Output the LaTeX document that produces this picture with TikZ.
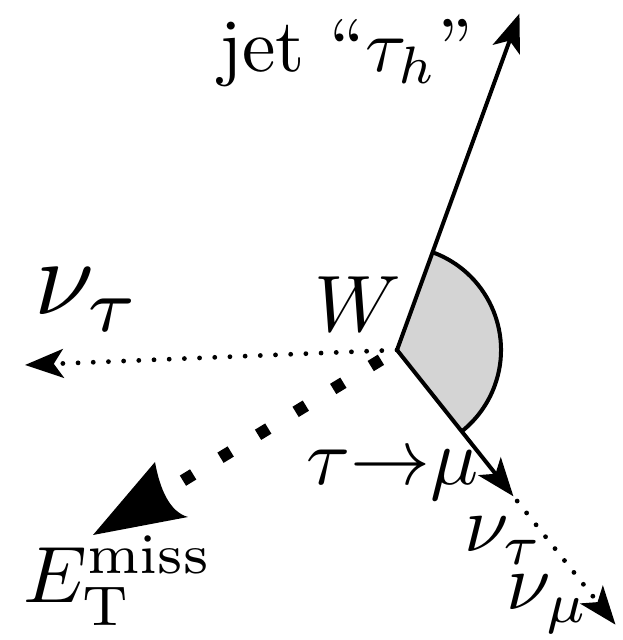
\documentclass[tikz,border=0pt]{standalone}
\usetikzlibrary{arrows.meta,calc}
\begin{document}
\begin{tikzpicture}[x=0.125pt,y=0.125pt,
  lw/.style={line width=0.5pt},
  smalltip/.style={-{Stealth[length=4.8pt,width=3.6pt,inset=1.2pt]}},
  dotline/.style={line width=0.6pt,line cap=round,dash pattern=on 0pt off 1.9pt},
  thickdash/.style={line width=1.5pt,dash pattern=on 1.5pt off 4pt,dash phase=3.15pt},
  lbl/.style={anchor=base,inner sep=0pt}]
\useasboundingbox (0,0) rectangle (622,640);
\coordinate (O) at (397,290);
\coordinate (J) at ($(O)+(70:358)$);
\coordinate (T1) at ($(O)+(-51.5:187)$);
\coordinate (Ts) at ($(O)+(-51.5:193)$);
\coordinate (T2) at ($(O)+(-51.5:351)$);
\coordinate (N) at (25,275);
\coordinate (E) at (93,105);
\coordinate (Eb) at ($(O)+(211.4:253)$);
\coordinate (Ec1) at (155,178);
\coordinate (Ec2) at (188,123);
% wedge
\fill[black!17] (O) -- ($(O)+(70:104)$) arc[start angle=70,end angle=-51.5,radius=104] -- cycle;
\draw[lw] ($(O)+(70:104)$) arc[start angle=70,end angle=-51.5,radius=104];
% lines
\draw[lw,smalltip] (O) -- (J);
\draw[lw,smalltip] (O) -- (T1);
\draw[dotline,smalltip] (Ts) -- (T2);
\draw[dotline,smalltip] (O) -- (N);
\draw[thickdash] (O) -- (Eb);
\fill (E) -- (Ec1) .. controls (160,150) and (170,128) .. (Ec2) -- cycle;
% labels
\node[lbl,scale=0.94] (jet) at (346,568) {jet ``$\tau_h$''};
\node[lbl] (W) at (358,308) {$W$};
\node[lbl,scale=1.35] (nut) at (88,325) {$\nu_\tau$};
\node[lbl] (met) at (118,37) {$E_{\mathrm{T}}^{\mathrm{miss}}$};
\node[lbl] (taumu) at (393,155) {$\tau{\rightarrow}\mu$};
\node[lbl] (nut2) at (504,88) {$\nu_\tau$};
\node[lbl] (num) at (548,30) {$\nu_\mu$};
\end{tikzpicture}
\end{document}
